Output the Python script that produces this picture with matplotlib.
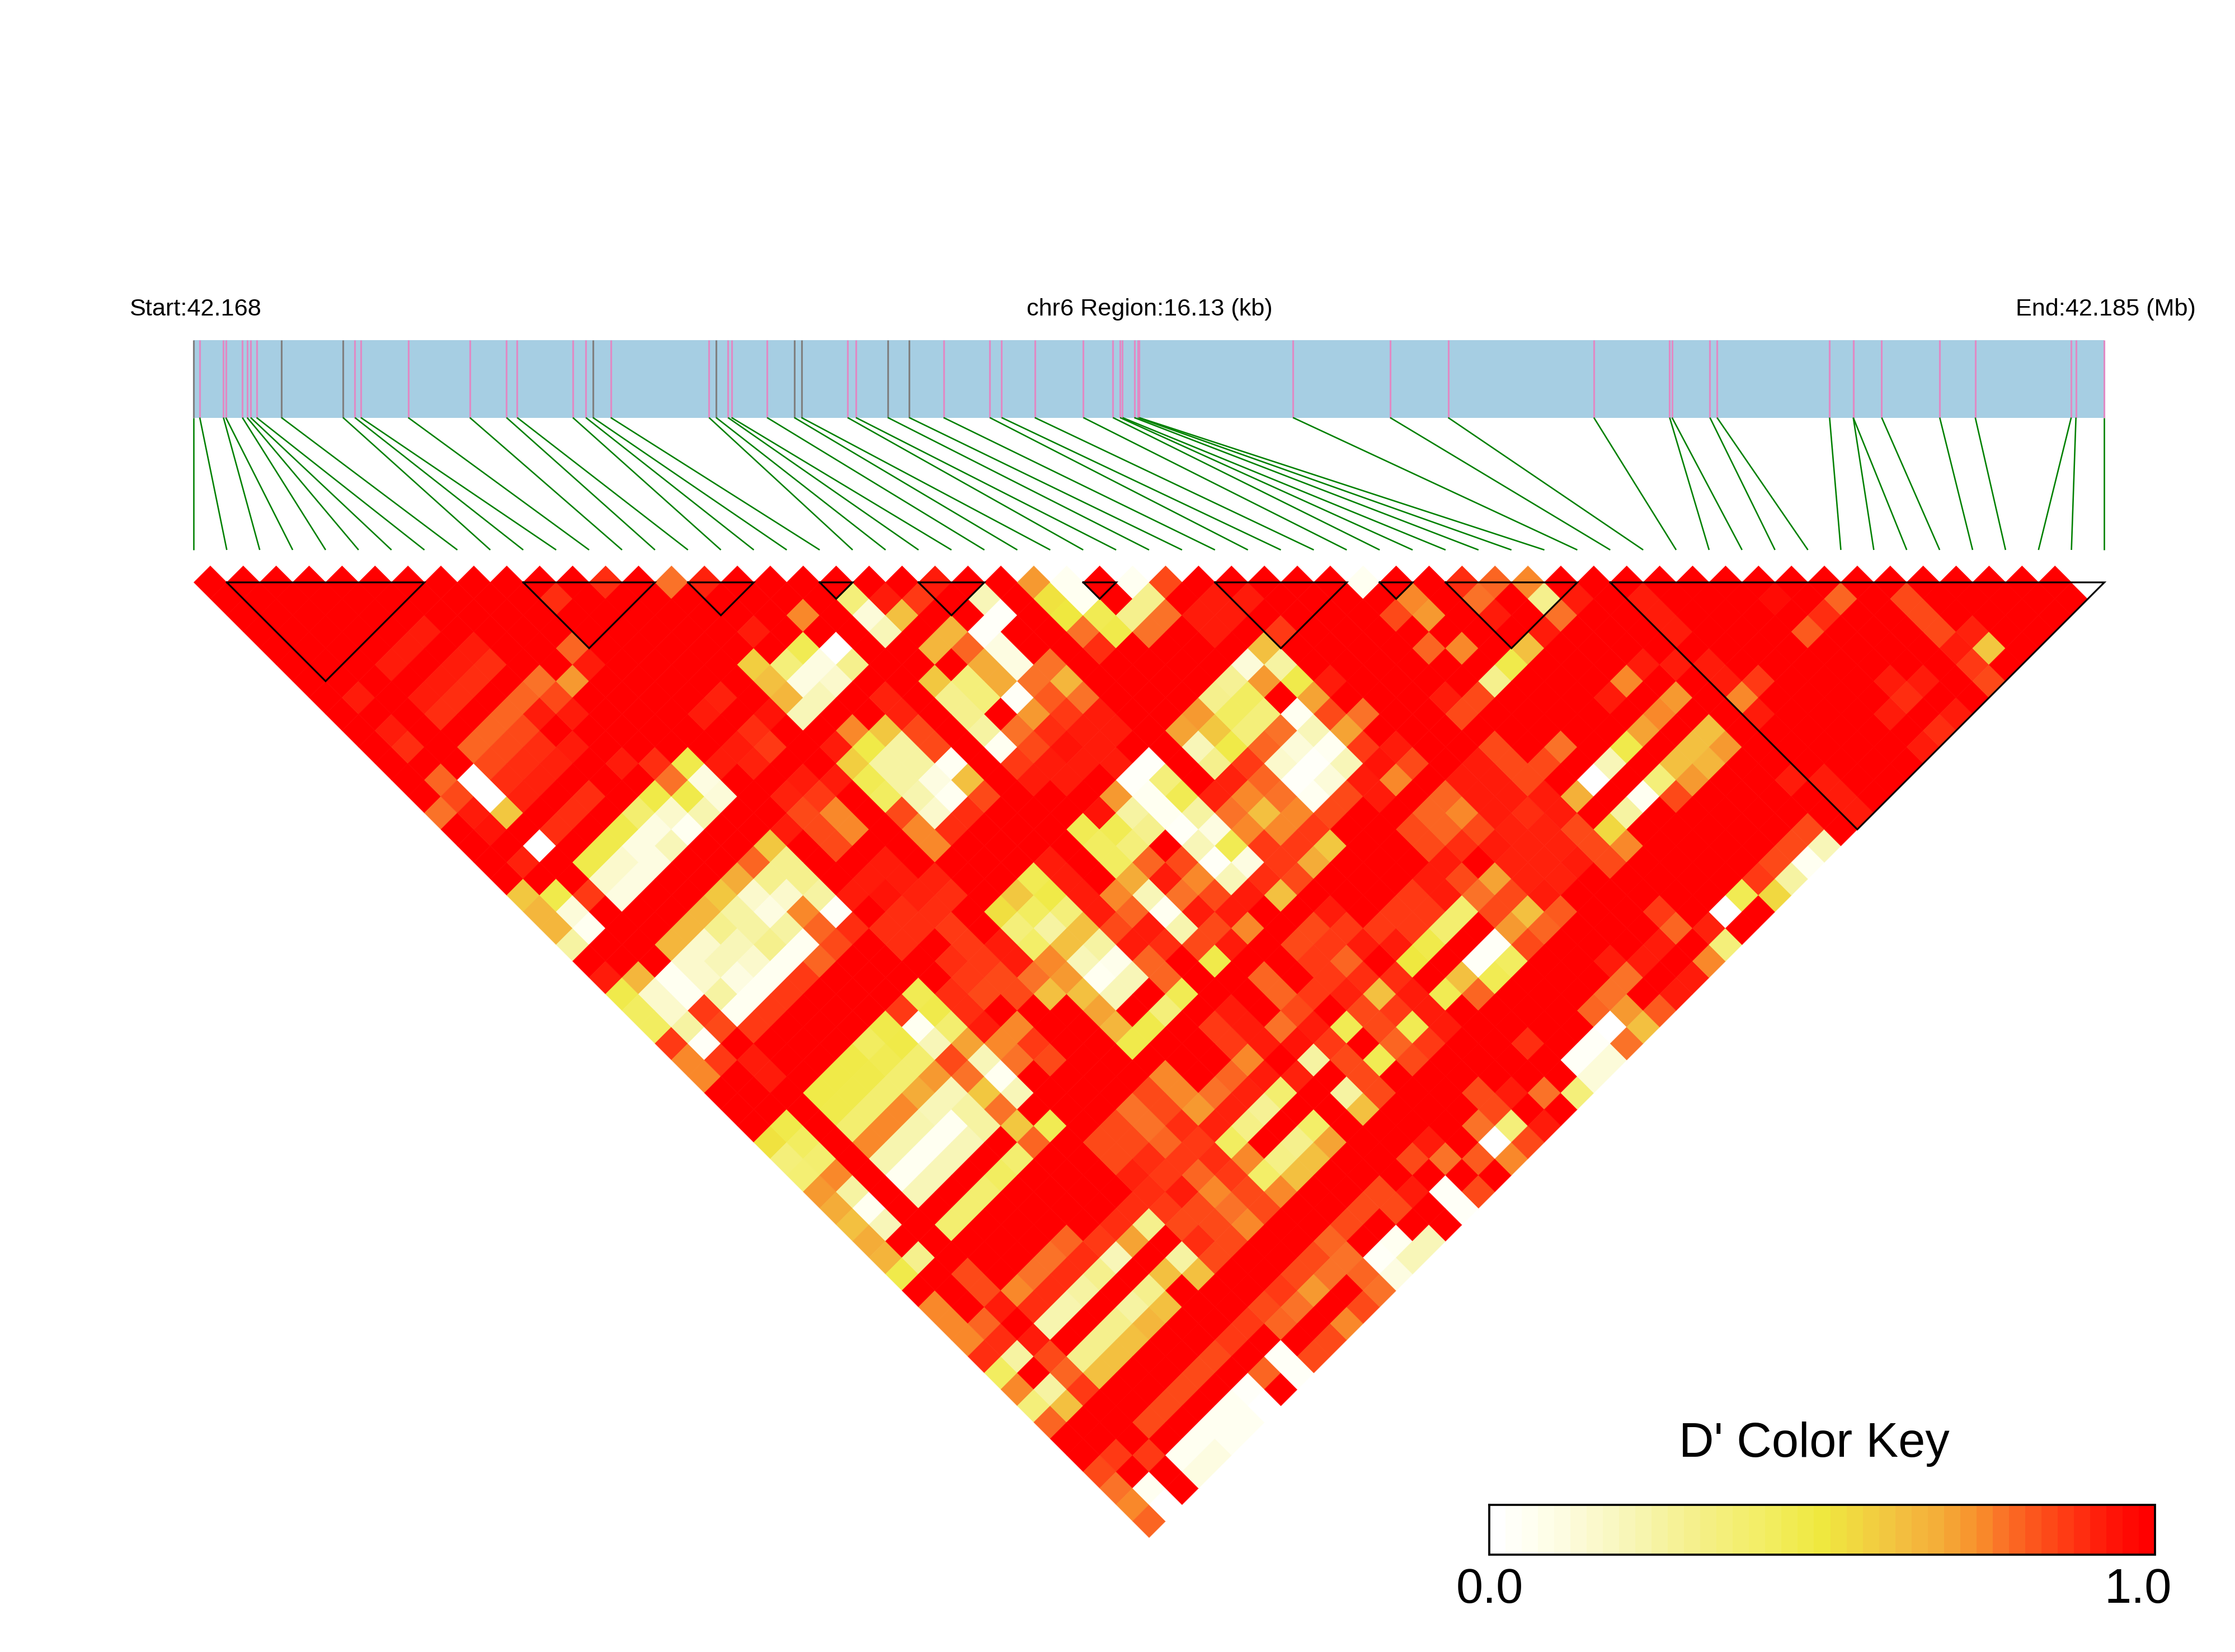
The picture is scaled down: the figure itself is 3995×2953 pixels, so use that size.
import matplotlib
matplotlib.use("Agg")
import matplotlib.pyplot as plt
from matplotlib.collections import PolyCollection
from matplotlib.colors import LinearSegmentedColormap

# snp positions along the region, in kb from the start
snp_kb = [0.00, 0.05, 0.25, 0.27, 0.41, 0.45, 0.48, 0.53, 0.74, 1.26, 1.36, 1.41, 1.81, 2.33, 2.64,
          2.73, 3.20, 3.31, 3.37, 3.52, 4.35, 4.41, 4.51, 4.54, 4.84, 5.07, 5.13, 5.52, 5.59, 5.86,
          6.04, 6.33, 6.72, 6.82, 7.10, 7.51, 7.76, 7.82, 7.84, 7.94, 7.97, 7.98, 9.28, 10.10,
          10.59, 11.82, 12.46, 12.48, 12.80, 12.86, 13.81, 14.01, 14.01, 14.25, 14.74, 15.04, 15.85, 15.89, 16.13]
gray_snps = [0, 8, 9, 18, 21, 25, 26, 29, 30]
region_kb = 16.13

# LD blocks as first and last snp
blocks = [(1, 7), (10, 14), (15, 17), (19, 20), (22, 24), (27, 28), (31, 35), (36, 37), (38, 42), (43, 58)]

# D' below 1, per second snp j: {first snp i: D'}. everything not listed is 1.0
low_dprime = {
    9: {5: .93, 4: .93, 3: .93, 1: .93},
    11: {6: .93, 5: .93, 4: .93, 3: .93, 1: .93},
    12: {10: .9, 6: .9, 5: .9, 4: .9, 3: .9, 1: .9},
    13: {12: .9},
    14: {9: .8, 7: .78, 6: .8, 5: .8, 4: .8, 3: .8, 1: .8},
    15: {14: .78, 9: .93, 8: .72, 7: .85, 6: .93, 5: .85, 4: .85, 3: .85, 2: 0, 1: .85, 0: .78},
    16: {15: .92, 7: .93, 5: .9, 4: .9, 3: .9, 2: 0, 1: .93},
    17: {6: .93, 5: .92, 4: .92, 3: .92, 2: .6, 1: .95},
    19: {15: .93, 7: .93, 5: .9, 4: .9, 3: .9, 2: 0, 1: .92},
    20: {17: .75, 14: .58, 12: .92, 11: .93, 8: .9, 0: .6},
    21: {19: .35, 16: .45, 15: .35, 14: .62, 9: .47, 8: .78, 7: .48, 6: .38, 5: .47, 4: .47, 3: .47, 1: .47, 0: .65},
    22: {20: .93, 19: .12, 17: 0, 16: .1, 15: .1, 14: .65, 13: .95, 12: .9, 11: .93, 10: .93, 9: .1, 8: .47, 7: .15,
         6: .1, 5: .1, 4: .15, 3: .15, 2: .88, 1: .12, 0: .65},
    23: {22: .93, 21: .88, 20: .62, 19: .2, 17: .3, 16: .15, 15: .2, 14: .2, 12: .88, 11: .92, 9: .12, 8: .22, 7: .05,
         6: .2, 5: .1, 4: .1, 3: .1, 1: .05, 0: .25},
    25: {23: .2, 21: .65, 20: .65, 17: .92, 15: .75, 14: .93, 12: .93, 11: .92, 0: .93},
    26: {25: .72, 23: .02, 22: .02, 21: .8, 19: .6, 17: .92, 16: .6, 15: .48, 14: .58, 13: .93, 12: .88, 11: .85, 10: .93,
         9: .6, 8: .8, 7: .68, 6: .6, 5: .65, 4: .65, 3: .65, 1: .65, 0: .47},
    27: {26: .05, 25: .52, 22: .1, 21: .68, 20: .35, 19: .3, 17: .85, 16: .25, 15: .25, 14: .45, 12: .75, 11: .85, 9: .3,
         8: .3, 7: .15, 6: .25, 5: .3, 4: .15, 3: .15, 2: .05, 1: .15, 0: .42},
    28: {26: .05, 25: .5, 22: .1, 21: .68, 20: .35, 19: .3, 17: .85, 16: .25, 15: .25, 14: .42, 12: .75, 11: .85, 9: .3,
         8: .15, 7: .1, 6: .25, 5: .2, 4: .2, 3: .15, 2: .05, 1: .15, 0: .42},
    29: {28: .05, 26: .45, 25: .78, 23: .78, 22: .78, 21: .03, 19: .25, 17: .04, 16: .1, 15: .22, 14: .85, 9: .25, 8: .75,
         7: .25, 6: .3, 5: .15, 4: .1, 3: .25, 2: .88, 1: .25, 0: .88},
    30: {29: .85, 28: .3, 27: .3, 26: .47, 25: .9, 23: .65, 22: .82, 21: .72, 20: .78, 19: .05, 17: .62, 16: .05, 15: .15,
         14: .75, 12: .93, 11: .93, 10: .93, 9: .03, 8: .8, 7: .05, 6: .05, 5: .05, 4: .05, 3: .05, 2: .85, 1: .03, 0: .75},
    31: {28: .78, 27: .78, 23: .78, 22: .88, 21: .9, 20: .85, 19: .88, 17: .85, 16: .9, 15: .9, 14: .75, 12: .93, 11: .95,
         9: .9, 8: .85, 7: .8, 6: .88, 5: .88, 4: .88, 3: .88, 1: .88, 0: .75},
    32: {30: .93, 29: .93, 23: .93, 22: .93, 21: .95, 20: .93, 19: .93, 13: .92, 12: .92, 11: .9, 10: .9, 2: .93},
    33: {31: .93, 30: .93, 29: .93, 23: .93, 22: .93, 21: .93, 20: .93, 13: .9, 12: .9, 11: .9, 10: .9, 2: .93},
    34: {22: .93, 12: .88},
    35: {31: .88, 30: .62, 29: .12, 28: .28, 27: .3, 26: .72, 25: .7, 23: .02, 22: .02, 21: .72, 20: .95, 19: .45, 17: .93,
         16: .45, 15: .6, 14: .53, 12: .88, 11: .9, 9: .45, 8: .88, 7: .47, 6: .42, 5: .48, 4: .48, 3: .48, 1: .47, 0: .52},
    36: {35: .05, 30: .25, 29: .72, 28: .42, 27: .42, 26: .6, 25: .2, 23: .35, 22: .05, 21: .25, 20: .45, 19: .42, 17: .93,
         16: .48, 15: .42, 14: .35, 13: .93, 12: .88, 11: .88, 10: .9, 9: .47, 8: .05, 7: .48, 6: .45, 5: .47, 4: .47, 3: .47,
         1: .42, 0: .35},
    37: {30: .47, 28: .35, 27: .35, 26: .48, 25: .3, 23: .45, 22: .05, 21: .3, 20: .35, 19: .42, 17: .93, 16: .35, 15: .25,
         14: .4, 13: .93, 12: .85, 11: .85, 10: .9, 9: .38, 8: .2, 7: .38, 6: .38, 5: .38, 4: .38, 3: .38, 1: .38, 0: .37},
    38: {36: .75, 35: .85, 31: .93, 30: .7, 29: .05, 28: .78, 27: .8, 26: .88, 25: .92, 24: .92, 23: .25, 22: .03, 20: .8,
         19: .68, 18: .75, 17: .93, 16: .62, 15: .62, 14: .75, 13: .78, 12: .85, 10: .93, 9: .7, 8: .85, 7: .72, 6: .68,
         5: .75, 4: .75, 3: .75, 1: .75, 0: .72},
    39: {38: .9, 36: .72, 30: .85, 29: .2, 28: .12, 27: .15, 26: .8, 25: .75, 24: .78, 23: .1, 22: .2, 21: .85, 20: .93,
         19: .2, 18: .8, 17: .85, 16: .25, 15: .2, 14: .72, 13: .62, 11: .75, 10: .75, 9: .2, 8: .78, 7: .2, 6: .2, 5: .22,
         4: .22, 3: .22, 1: .25, 0: .68},
    40: {39: .8, 38: .78, 35: .8, 31: .78, 30: .7, 29: .05, 28: .02, 27: .02, 26: .78, 25: .62, 24: .75, 23: .45, 22: .03,
         21: .75, 20: .78, 19: .05, 18: .93, 17: .93, 16: .07, 15: .05, 14: .62, 11: .88, 10: .78, 9: .05, 8: .6, 7: .25,
         6: .05, 5: .05, 4: .05, 3: .05, 1: .05, 0: .62},
    41: {40: .75, 38: .93, 36: .75, 30: .88, 29: .2, 28: .12, 27: .05, 26: .75, 25: .75, 24: .88, 23: .1, 22: .2, 21: .85,
         20: .93, 19: .22, 18: .9, 17: .8, 16: .2, 15: .2, 14: .7, 11: .85, 9: .2, 8: .78, 7: .25, 6: .2, 5: .2, 4: .2,
         3: .2, 1: .2, 0: .68},
    42: {40: .3, 34: .93, 31: .93, 30: .95, 29: .93, 28: .85, 27: .85, 26: .88, 25: .88, 24: .88, 23: .9, 22: .93, 21: .93,
         20: .85, 19: .85, 17: .8, 14: .65, 8: .6, 0: .66},
    43: {41: .93, 40: .78, 39: .93, 38: .62, 37: .47, 36: .3, 35: .85, 34: .85, 31: .85, 30: .75, 29: .93, 26: .6, 25: .68,
         24: .85, 23: .62, 21: .75, 20: .93, 19: .47, 17: .45, 16: .35, 15: .47, 14: .47, 9: .45, 8: .8, 7: .38, 6: .42,
         5: .38, 4: .38, 3: .38, 1: .3, 0: .47},
    45: {43: .93, 34: .85, 33: .93, 32: .93, 31: .8, 30: .8, 29: .85, 24: .93, 23: .85, 22: .85, 20: .8, 18: .93, 17: .88,
         14: .75, 13: .85, 12: .78, 11: .85, 10: .85, 2: .85, 0: .75},
    46: {43: .93, 34: .85, 33: .93, 32: .93, 31: .75, 30: .8, 29: .85, 24: .88, 23: .88, 22: .88, 20: .8, 18: .93, 17: .88,
         14: .75, 13: .85, 12: .78, 11: .85, 10: .85, 2: .85, 0: .75},
    47: {43: .93, 41: .93, 40: .75, 39: .93, 36: .78, 35: .85, 34: .85, 33: .93, 32: .93, 31: .85, 30: .9, 29: .93, 28: .93,
         27: .88, 26: .88, 25: .88, 24: .93, 23: .8, 22: .88, 21: .88, 20: .85, 19: .78, 18: .93, 17: .75, 16: .8, 15: .78,
         14: .72, 13: .9, 12: .8, 11: .9, 10: .92, 6: .8, 5: .78, 4: .78, 3: .75, 2: .93, 1: .8, 0: .75},
    48: {42: .93, 34: .93, 33: .9, 32: .92, 31: .93, 29: .85, 28: .93, 27: .88, 26: .88, 25: .93, 23: .9, 22: .92, 20: .93,
         19: .95, 17: .93, 16: .92, 15: .92, 14: .92, 13: .88, 12: .88, 11: .88, 10: .9, 9: .9, 8: .9, 7: .88, 6: .9, 5: .9,
         4: .9, 3: .9, 1: .9, 0: .9},
    49: {47: .97, 43: .93, 41: .72, 40: .75, 39: .7, 38: .47, 37: .2, 36: 0, 35: .67, 34: .93, 33: .92, 32: .92, 31: .92,
         30: .7, 29: .78, 28: .38, 27: .38, 26: .47, 25: .5, 24: .9, 23: .62, 22: .85, 21: .45, 20: .88, 19: .25, 18: .92,
         17: .38, 16: .28, 15: .32, 14: .42, 13: .9, 12: .8, 11: .93, 10: .88, 9: .3, 8: .7, 7: .2, 6: .3, 5: .25, 4: .22,
         3: .22, 2: .93, 1: .25, 0: .42},
    50: {43: .93, 34: .85, 33: .92, 32: .92, 31: .92, 30: .85, 29: .85, 24: .93, 23: .88, 22: .85, 20: .85, 14: .75, 13: .88,
         12: .75, 11: .85, 10: .85, 2: .85, 0: .75},
    51: {49: .8, 48: .9, 47: .82, 44: .88, 43: .75, 41: .62, 40: .62, 39: .62, 38: .35, 37: .05, 36: .25, 35: .55, 34: .85,
         33: .93, 32: .92, 31: .93, 30: .62, 29: .72, 28: .03, 27: .03, 26: .62, 25: .45, 24: .93, 23: .45, 22: .8, 21: .45,
         20: .85, 19: .25, 17: .4, 16: .3, 15: .32, 14: .4, 13: .85, 12: .78, 11: .85, 10: .9, 9: .25, 8: .62, 7: .3, 6: .25,
         5: .3, 4: .3, 3: .3, 2: .8, 1: .25, 0: .35},
    52: {43: .93, 41: .72, 40: .65, 39: .72, 38: .85, 35: .75, 34: .85, 31: .82, 30: .8, 29: .85, 28: .42, 27: .45, 26: .8,
         24: .93, 23: .88, 22: .85, 20: .85, 19: .62, 17: .7, 16: .62, 15: .62, 14: .75, 13: .85, 12: .75, 11: .85, 10: .85,
         9: .62, 7: .62, 6: .65, 5: .62, 4: .62, 3: .62, 2: .88, 1: .62, 0: .8},
    53: {51: .85},
    54: {51: .85},
    55: {51: .85, 48: .93, 42: .93, 34: .88, 31: .93, 26: .9, 23: .85, 20: .93, 19: .85, 17: .85, 16: .85, 15: .85, 14: .8,
         13: .85, 12: .85, 11: .88, 10: .85, 9: .88, 8: .88, 7: .85, 6: .85, 5: .85, 4: .85, 3: .85, 1: .88, 0: .85},
    56: {52: .92, 51: .93, 49: .93, 48: .9, 47: .93, 43: .93, 34: .8, 33: .93, 32: .93, 31: .78, 30: .78, 29: .8, 24: .93,
         23: .85, 22: .78, 20: .78, 18: .93, 17: .85, 14: .78, 13: .78, 12: .72, 11: .78, 10: .8, 2: .88, 0: .78},
    57: {52: .6, 51: .88, 43: .93, 41: .85, 40: .85, 39: .85, 38: .88, 37: .45, 36: 0, 35: .92, 30: .72, 29: 0, 28: .03,
         27: .03, 25: .78, 23: .35, 22: 0, 21: .82, 19: .03, 16: .05, 15: .03, 14: .8, 9: .03, 8: .8, 7: .02, 6: .05, 5: .05,
         4: .05, 3: .05, 1: .05, 0: .75},
    58: {57: 0, 51: .85, 49: .93, 48: .9, 47: .93, 43: .93, 41: .2, 40: .05, 39: .25, 38: .55, 35: .35, 34: .75, 33: .93,
         32: .93, 31: .82, 30: .62, 29: .78, 28: .12, 27: .12, 26: .35, 24: .93, 23: .85, 22: .75, 20: .85, 19: .03, 17: .2,
         16: .2, 15: .1, 14: .78, 13: .85, 12: .75, 11: .85, 10: .85, 9: .03, 7: 0, 6: .05, 5: .05, 4: .1, 3: .1, 1: 0, 0: .8},
}

key_stops = [(0, "#ffffff"), (.05, "#fffff0"), (.1, "#fdfce0"), (.2, "#f8f6b8"), (.3, "#f5f08c"), (.4, "#f3ee68"),
             (.5, "#efe93f"), (.55, "#f1d840"), (.62, "#f3c040"), (.68, "#f4ad38"), (.72, "#f69a30"), (.75, "#f98a2a"),
             (.78, "#fa7228"), (.8, "#fb6522"), (.85, "#fd4a18"), (.88, "#ff3a14"), (.9, "#ff2e10"), (.93, "#ff1c0a"),
             (1, "#ff0000")]
cmap = LinearSegmentedColormap.from_list("ld", key_stops, N=256)

n = len(snp_kb)
plt.rcParams["font.family"] = ["Liberation Sans", "DejaVu Sans"]
fig = plt.figure(figsize=(3995 / 300, 2953 / 300), dpi=300)
ax = fig.add_axes([0, 0, 1, 1])
ax.set_xlim(0, 3995)
ax.set_ylim(2953, 0)
ax.axis("off")

left = 346.5
right = 3761.5
step = (right - left) / (n - 1)
top_y = 1041
bar_top = 607.5
bar_bot = 746.5
line_bot = 983


def tri_x(s):
    return left + s * step / 2


# heatmap cells
polys = []
vals = []
for j in range(1, n):
    row = low_dprime.get(j, {})
    for i in range(j):
        cx = tri_x(i + j)
        cy = top_y + (j - i - 1) * step / 2
        polys.append([(cx - step / 2, cy), (cx, cy - step / 2), (cx + step / 2, cy), (cx, cy + step / 2)])
        vals.append(row.get(i, 1.0))
cells = PolyCollection(polys, array=vals, cmap=cmap, norm=plt.Normalize(0, 1), edgecolors="face", linewidths=0.15)
ax.add_collection(cells)

# block outlines
for a, b in blocks:
    xa = tri_x(2 * a)
    xb = tri_x(2 * b)
    ax.plot([xa, xb, (xa + xb) / 2, xa], [top_y, top_y, top_y + (b - a) * step / 2, top_y], color="black", lw=0.75,
            zorder=4, solid_joinstyle="miter")

# gene bar and snp lines
ax.fill_between([left, right], bar_top, bar_bot, color="#a6cee3", lw=0)
for k, kb in enumerate(snp_kb):
    x = left + kb / region_kb * (right - left)
    ax.plot([x, x], [bar_top, bar_bot], color="#808080" if k in gray_snps else "#e08ac4", lw=0.75, solid_capstyle="butt")
    ax.plot([x, left + k * step], [bar_bot, line_bot], color="#008000", lw=0.62, solid_capstyle="butt")

ax.text(231, 553, "Start:42.168", fontsize=10.4, ha="left", va="center")
ax.text(2055, 553, "chr6 Region:16.13 (kb)", fontsize=10.4, ha="center", va="center")
ax.text(3603, 553, "End:42.185 (Mb)", fontsize=10.4, ha="left", va="center")

# colour key
key_left = 2662
key_right = 3852
key_top = 2690
key_bot = 2779
n_key = 41
for k in range(n_key):
    x0 = key_left + k * (key_right - key_left) / n_key
    x1 = key_left + (k + 1) * (key_right - key_left) / n_key
    ax.fill_between([x0, x1 + 0.5], key_top, key_bot, color=cmap(k / (n_key - 1)), lw=0)
ax.plot([key_left, key_right, key_right, key_left, key_left], [key_top, key_top, key_bot, key_bot, key_top],
        color="black", lw=0.9, solid_joinstyle="miter")
ax.text(3243, 2581, "D' Color Key", fontsize=20.8, ha="center", va="center")
ax.text(2663, 2842, "0.0", fontsize=20.8, ha="center", va="center")
ax.text(3822, 2842, "1.0", fontsize=20.8, ha="center", va="center")

fig.savefig("out.png", dpi=300, facecolor="white")
